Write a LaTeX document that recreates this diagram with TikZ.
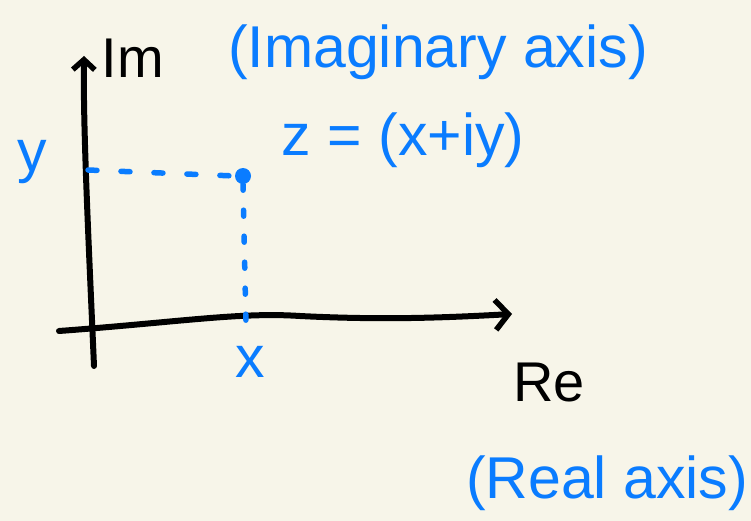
\documentclass[tikz,border=0pt]{standalone}
\usepackage{fontspec}
\setmainfont{Liberation Sans}
\usetikzlibrary{arrows.meta}
\definecolor{bg}{HTML}{F7F5E9}
\definecolor{pen}{HTML}{0A7CFF}
\tikzset{
  axisline/.style={line width=6pt, line cap=round, line join=round, black},
  guide/.style={line width=5.5pt, line cap=round, pen},
  bluelabel/.style={text=pen, inner sep=0pt, font=\fontsize{59}{63}\selectfont},
  blacklabel/.style={text=black, inner sep=0pt, font=\fontsize{56}{60}\selectfont},
}
\begin{document}
\begin{tikzpicture}[x=1pt,y=-1pt]
\fill[bg] (0,0) rectangle (751,521);
\useasboundingbox (0,0) rectangle (751,521);
% axes
\coordinate (ybot) at (94,366);
\coordinate (ytop) at (84,56);
\coordinate (xleft) at (59,331);
\coordinate (xright) at (512,314);
\draw[axisline, -{Straight Barb[length=10pt,width=22pt,line width=5.5pt]}] (ybot) .. controls (89,250) and (83,130) .. (ytop);
\draw[axisline, -{Straight Barb[length=13pt,width=30pt,line width=5.5pt]}] (xleft) .. controls (180,322) and (240,312) .. (300,316) .. controls (380,320) and (440,318) .. (xright);
% point z
\coordinate (yax) at (88,170);
\coordinate (xax) at (246,326);
\node[circle, fill=pen, minimum size=16pt, inner sep=0pt] (z) at (243,176) {};
\draw[guide, dash pattern=on 9pt off 24pt] (yax) -- (z.west);
\draw[guide, dash pattern=on 6pt off 20pt] (z.south) -- (xax);
% labels
\node[blacklabel] (im) at (133,58) {Im};
\node[bluelabel] (imaxis) at (438,52) {(Imaginary axis)};
\node[bluelabel] (ylab) at (32,162) {y};
\node[bluelabel] (xlab) at (250,362) {x};
\node[bluelabel] (zlab) at (403,140) {z = (x+iy)};
\node[blacklabel] (re) at (549,383) {Re};
\node[bluelabel] (reaxis) at (607,483) {(Real axis)};
\end{tikzpicture}
\end{document}
